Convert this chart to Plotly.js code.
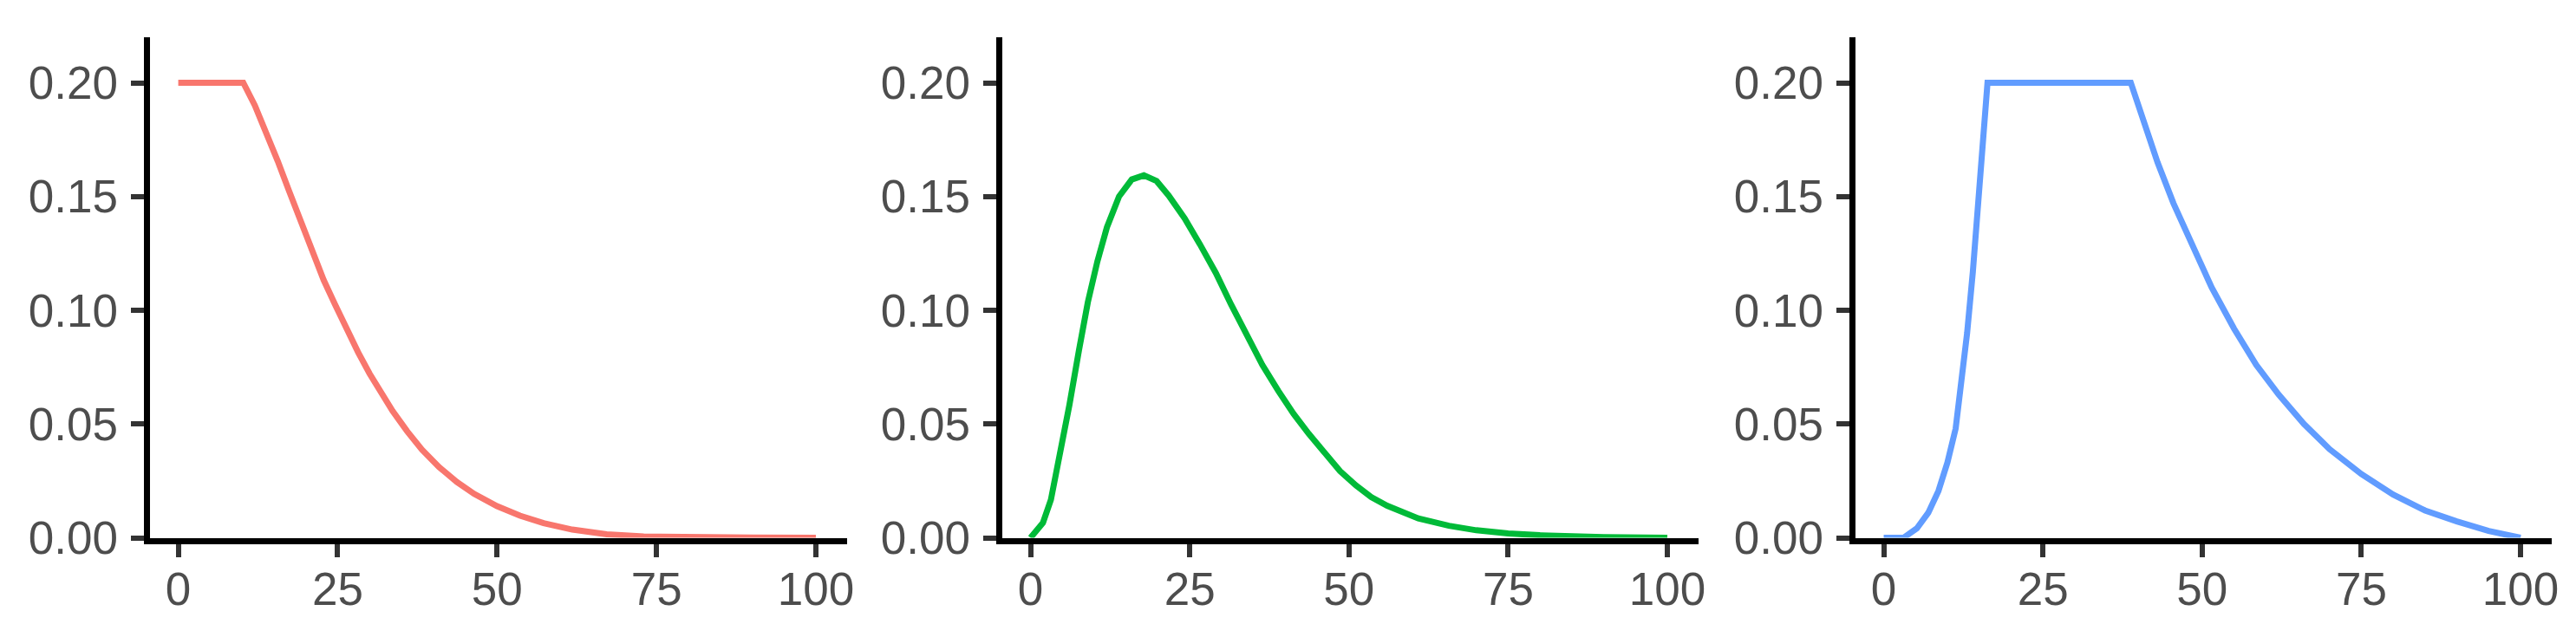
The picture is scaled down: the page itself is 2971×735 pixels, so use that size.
<!DOCTYPE html>
<html>
<head>
<meta charset="utf-8">
<script src="https://cdn.plot.ly/plotly-3.0.1.min.js"></script>
<style>
  html, body { margin: 0; padding: 0; background: #ffffff; }
  #chart { width: 2971px; height: 735px; }
</style>
</head>
<body>
<div id="chart"></div>
<script>
// values
const redX = [0, 10.2, 12, 13.8, 15.6, 17.4, 19.2, 21, 22.8, 24.6, 26.4, 28.2, 30, 31.8, 33.6, 35.9, 38.2, 40.9, 43.7, 46.4, 50, 53.6, 57.3, 61.8, 67.2, 73, 80, 90, 100];
const redY = [0.2, 0.2, 0.1901, 0.1784, 0.1656, 0.1523, 0.1388, 0.1257, 0.1133, 0.1025, 0.0918, 0.0816, 0.0722, 0.0636, 0.0558, 0.0468, 0.0388, 0.0311, 0.0245, 0.0193, 0.0139, 0.0097, 0.0064, 0.0036, 0.0015, 0.0006, 0.0002, 0.00005, 0];

const greenX = [0, 1.95, 3.2, 4.6, 6.1, 7.6, 9, 10.5, 12, 13.9, 15.9, 17.8, 19.8, 21.7, 24.2, 26.6, 29.1, 31.5, 34, 36.4, 38.9, 41.3, 43.7, 46.2, 48.6, 51.1, 53.5, 56, 60.9, 65.7, 70, 75, 80, 90, 100];
const greenY = [0, 0.0066, 0.0167, 0.0356, 0.0583, 0.0823, 0.1035, 0.1215, 0.1365, 0.15, 0.1575, 0.1593, 0.1568, 0.1504, 0.1404, 0.129, 0.1164, 0.1025, 0.0886, 0.076, 0.0646, 0.0545, 0.0457, 0.0369, 0.0293, 0.023, 0.0179, 0.0141, 0.0085, 0.0053, 0.0033, 0.0019, 0.0011, 0.0003, 0];

const blueX = [0, 3.1, 5.2, 7, 8.6, 10, 11.3, 12.2, 13.1, 14, 14.8, 15.6, 16.3, 38.8, 41, 43, 45.5, 48.5, 51.5, 55, 58.5, 62, 66, 70, 75, 80, 85, 90, 95, 100];
const blueY = [0, 0, 0.0041, 0.011, 0.0206, 0.033, 0.048, 0.068, 0.09, 0.117, 0.145, 0.173, 0.2, 0.2, 0.181, 0.165, 0.147, 0.128, 0.11, 0.092, 0.076, 0.063, 0.05, 0.039, 0.028, 0.019, 0.012, 0.0072, 0.003, 0];

const xTicks = [0, 25, 50, 75, 100];
const yTicks = [0, 0.05, 0.10, 0.15, 0.20];

const colors = ["#F8766D", "#00BA38", "#619CFF"];

const W = 2971;
const H = 735;

// panel plot areas in pixels (left edge, right edge)
const panels = [
  [172.5, 977],
  [1155.5, 1959],
  [2139.5, 2943]
];
const plotTop = 43;
const plotBottom = 620.5;

const series = [
  [redX, redY],
  [greenX, greenY],
  [blueX, blueY]
];

const traces = series.map((s, i) => ({
  x: s[0],
  y: s[1],
  type: "scatter",
  mode: "lines",
  line: { color: colors[i], width: 7 },
  xaxis: i === 0 ? "x" : "x" + (i + 1),
  yaxis: i === 0 ? "y" : "y" + (i + 1),
  hoverinfo: "skip"
}));

const tickFont = {
  family: "Liberation Sans, Arial, sans-serif",
  size: 53,
  color: "#4D4D4D"
};

function xAxis(i) {
  return {
    domain: [panels[i][0] / W, panels[i][1] / W],
    range: [-4.5, 104.9],
    anchor: i === 0 ? "y" : "y" + (i + 1),
    tickvals: xTicks,
    ticks: "outside",
    ticklen: 15,
    tickwidth: 6,
    tickcolor: "#333333",
    ticklabelstandoff: -8,
    showline: true,
    linecolor: "#000000",
    linewidth: 7,
    showgrid: false,
    zeroline: false,
    tickfont: tickFont,
    fixedrange: true
  };
}

function yAxis(i) {
  return {
    domain: [(H - plotBottom) / H, (H - plotTop) / H],
    range: [0, 0.22],
    anchor: i === 0 ? "x" : "x" + (i + 1),
    tickvals: yTicks,
    tickformat: ".2f",
    ticks: "outside",
    ticklen: 15,
    tickwidth: 6,
    tickcolor: "#333333",
    ticklabelstandoff: 4,
    showline: true,
    linecolor: "#000000",
    linewidth: 7,
    showgrid: false,
    zeroline: false,
    tickfont: tickFont,
    fixedrange: true
  };
}

const layout = {
  width: W,
  height: H,
  margin: { l: 0, r: 0, t: 0, b: 0 },
  paper_bgcolor: "#ffffff",
  plot_bgcolor: "#ffffff",
  showlegend: false,
  xaxis: xAxis(0),
  xaxis2: xAxis(1),
  xaxis3: xAxis(2),
  yaxis: yAxis(0),
  yaxis2: yAxis(1),
  yaxis3: yAxis(2)
};

Plotly.newPlot("chart", traces, layout, { displayModeBar: false, staticPlot: true });
</script>
</body>
</html>
